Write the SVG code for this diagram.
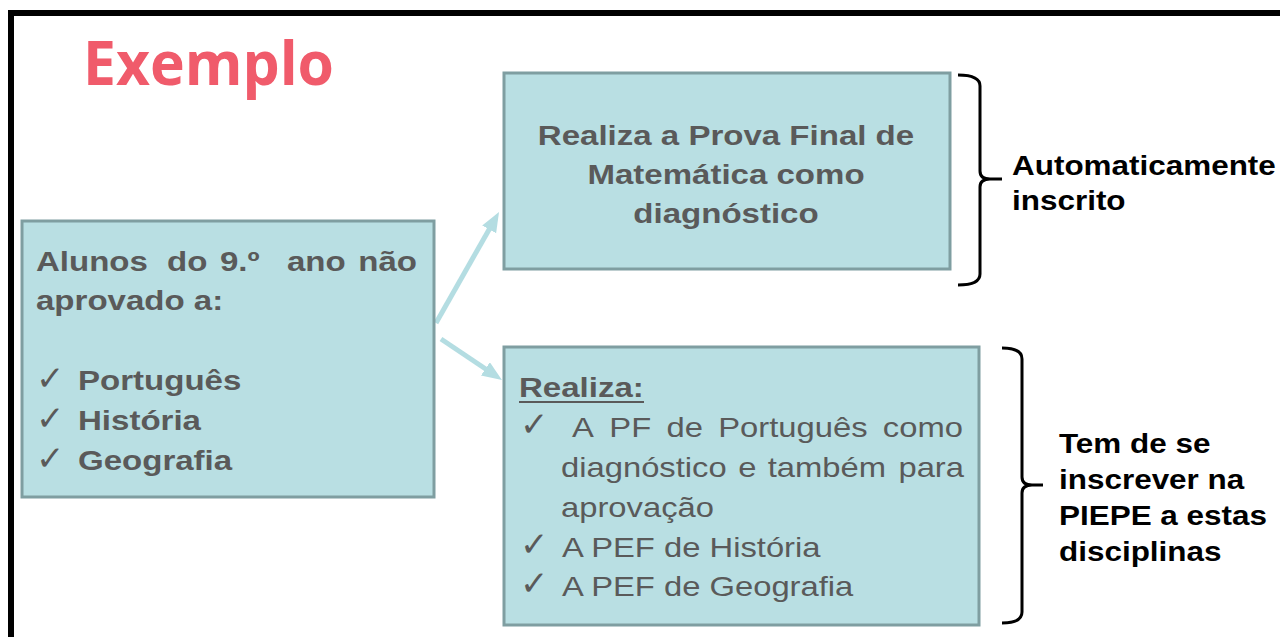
<svg xmlns="http://www.w3.org/2000/svg" width="1280" height="637" viewBox="0 0 1280 637">
<defs>
<style>
.box{fill:#b9dfe3;stroke:#7f9ea1;stroke-width:3}
.g{font-family:"Liberation Sans",Arial,sans-serif;font-size:28px;fill:#5a5a5a}
.b{font-weight:bold}
.k{font-family:"Liberation Sans",Arial,sans-serif;font-size:27px;font-weight:bold;fill:#000}
.chk{font-family:"DejaVu Sans",sans-serif;font-size:34px;fill:#5a5a5a}
.arr{stroke:#b4dde2;stroke-width:5;fill:none}
.brace{stroke:#000;stroke-width:3;fill:none}
</style>
<marker id="ah" markerUnits="userSpaceOnUse" markerWidth="22" markerHeight="18" refX="8" refY="8" orient="auto">
<path d="M0,0 L20,8 L0,16 z" fill="#b4dde2"/>
</marker>
</defs>
<rect x="0" y="0" width="1280" height="637" fill="#fff"/>
<rect x="11" y="13" width="1300" height="700" fill="none" stroke="#000" stroke-width="6"/>
<text x="83" y="85" font-family="'Open Sans',sans-serif" font-weight="bold" font-size="60" fill="#f05b6b" textLength="251" lengthAdjust="spacingAndGlyphs">Exemplo</text>

<g id="connectors">
<path class="arr" d="M436,323 L493.1,222.4" marker-end="url(#ah)"/>
<path class="arr" d="M441,339 L492,373.3" marker-end="url(#ah)"/>
</g>

<g id="node-alunos">
<rect class="box" x="22" y="221" width="412" height="276"/>
<text class="g b" transform="translate(36,271) scale(1.18,1)"><tspan x="0">Alunos</tspan><tspan x="111">do</tspan><tspan x="155.9">9.º</tspan><tspan x="212.7">ano</tspan><tspan x="273.1">não</tspan></text>
<text class="g b" transform="translate(36,310) scale(1.18,1)">aprovado a:</text>
<text class="chk" x="36" y="390">✓</text>
<text class="chk" x="36" y="430">✓</text>
<text class="chk" x="36" y="470">✓</text>
<text class="g b" transform="translate(78,390) scale(1.18,1)">Português</text>
<text class="g b" transform="translate(78,430) scale(1.18,1)">História</text>
<text class="g b" transform="translate(78,470) scale(1.18,1)">Geografia</text>
</g>

<g id="node-matematica">
<rect class="box" x="504" y="73" width="446" height="196"/>
<text class="g b" text-anchor="middle" transform="translate(726,145) scale(1.18,1)">Realiza a Prova Final de</text>
<text class="g b" text-anchor="middle" transform="translate(726,184) scale(1.18,1)">Matemática como</text>
<text class="g b" text-anchor="middle" transform="translate(726,223) scale(1.18,1)">diagnóstico</text>
</g>

<g id="node-realiza">
<rect class="box" x="504" y="347" width="475" height="278"/>
<text class="g b" transform="translate(519,397) scale(1.18,1)">Realiza:</text>
<line x1="519" y1="402" x2="644" y2="402" stroke="#5a5a5a" stroke-width="2"/>
<text class="chk" x="520" y="436">✓</text>
<text class="g" transform="translate(572,437) scale(1.17,1)"><tspan x="0">A</tspan><tspan x="31.9">PF</tspan><tspan x="80.8">de</tspan><tspan x="125">Português</tspan><tspan x="265.7">como</tspan></text>
<text class="g" transform="translate(561,477) scale(1.17,1)"><tspan x="0">diagnóstico</tspan><tspan x="151.4">e</tspan><tspan x="176.7">também</tspan><tspan x="288.4">para</tspan></text>
<text class="g" transform="translate(561,517) scale(1.17,1)">aprovação</text>
<text class="chk" x="520" y="556">✓</text>
<text class="g" transform="translate(562,557) scale(1.17,1)">A PEF de História</text>
<text class="chk" x="520" y="595">✓</text>
<text class="g" transform="translate(562,596) scale(1.17,1)">A PEF de Geografia</text>
</g>

<g id="brace-auto">
<path class="brace" d="M958,75 Q980,75 980,86 L980,171 Q980,179 990,179 L1002,179 M990,179 Q980,179 980,187 L980,274 Q980,285 958,285"/>
<text class="k" transform="translate(1012,175) scale(1.165,1)">Automaticamente</text>
<text class="k" transform="translate(1012,210) scale(1.165,1)">inscrito</text>
</g>

<g id="brace-piepe">
<path class="brace" d="M1002,348 Q1022,348 1022,359 L1022,477 Q1022,485 1032,485 L1043,485 M1032,485 Q1022,485 1022,493 L1022,612 Q1022,623 1002,623"/>
<text class="k" transform="translate(1059,453) scale(1.165,1)">Tem de se</text>
<text class="k" transform="translate(1059,489) scale(1.165,1)">inscrever na</text>
<text class="k" transform="translate(1059,525) scale(1.165,1)">PIEPE a estas</text>
<text class="k" transform="translate(1059,561) scale(1.165,1)">disciplinas</text>
</g>
</svg>
